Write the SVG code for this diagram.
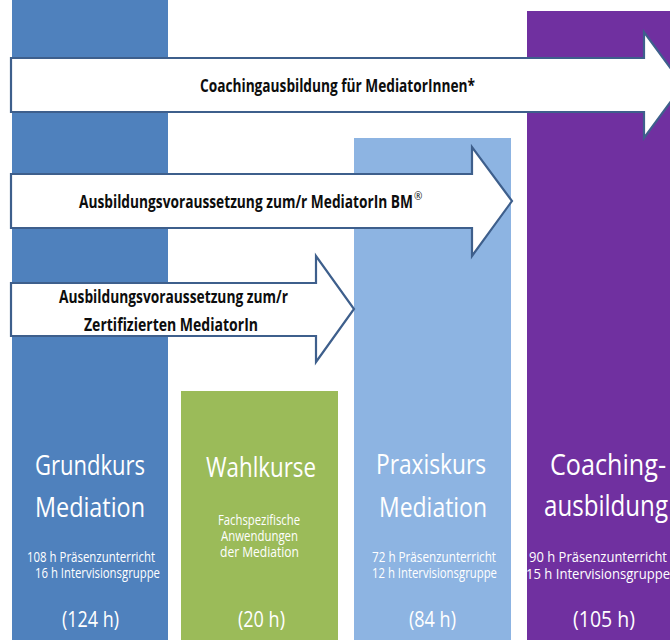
<svg xmlns="http://www.w3.org/2000/svg" width="670" height="640" viewBox="0 0 670 640">
<style>
.ct{font-family:"Open Sans","Liberation Sans",sans-serif;fill:#ffffff}
.h{font-size:28px}
.s{font-size:14px}
.p{font-size:21px}
.ph{font-size:29px}
.ps{font-size:15px}
.pp{font-size:22px}
.arr{fill:#ffffff;stroke:#3E5F8C;stroke-width:2.2;stroke-linejoin:miter}
.at{font-family:"Open Sans","Liberation Sans",sans-serif;font-weight:bold;font-size:18px;fill:#0d0d0d}
</style>
<rect width="670" height="640" fill="#ffffff"/>
<g id="grundkurs">
<rect x="12" y="0" width="156" height="640" fill="#4F81BD"/>
<text class="ct h" x="35" y="475" textLength="110" lengthAdjust="spacingAndGlyphs">Grundkurs</text>
<text class="ct h" x="35" y="517" textLength="110" lengthAdjust="spacingAndGlyphs">Mediation</text>
<text class="ct s" x="27" y="562" textLength="128" lengthAdjust="spacingAndGlyphs">108 h Präsenzunterricht</text>
<text class="ct s" x="35" y="578" textLength="125" lengthAdjust="spacingAndGlyphs">16 h Intervisionsgruppe</text>
<text class="ct p" x="62" y="627" textLength="57" lengthAdjust="spacingAndGlyphs">(124 h)</text>
</g>
<g id="wahlkurse">
<rect x="181" y="391" width="157" height="249" fill="#9BBB59"/>
<text class="ct h" x="206" y="477" textLength="110" lengthAdjust="spacingAndGlyphs">Wahlkurse</text>
<text class="ct s" x="218" y="525" textLength="82" lengthAdjust="spacingAndGlyphs">Fachspezifische</text>
<text class="ct s" x="221" y="541" textLength="77" lengthAdjust="spacingAndGlyphs">Anwendungen</text>
<text class="ct s" x="220" y="557" textLength="79" lengthAdjust="spacingAndGlyphs">der Mediation</text>
<text class="ct p" x="238" y="627" textLength="47" lengthAdjust="spacingAndGlyphs">(20 h)</text>
</g>
<g id="praxiskurs">
<rect x="354" y="138" width="157" height="502" fill="#8DB4E2"/>
<text class="ct h" x="376" y="474" textLength="110" lengthAdjust="spacingAndGlyphs">Praxiskurs</text>
<text class="ct h" x="379" y="517" textLength="108" lengthAdjust="spacingAndGlyphs">Mediation</text>
<text class="ct s" x="372" y="562" textLength="124" lengthAdjust="spacingAndGlyphs">72 h Präsenzunterricht</text>
<text class="ct s" x="372" y="578" textLength="125" lengthAdjust="spacingAndGlyphs">12 h Intervisionsgruppe</text>
<text class="ct p" x="409" y="627" textLength="47" lengthAdjust="spacingAndGlyphs">(84 h)</text>
</g>
<g id="coaching">
<rect x="527" y="11" width="143" height="629" fill="#7030A0"/>
<text class="ct ph" x="550" y="475" textLength="116" lengthAdjust="spacingAndGlyphs">Coaching-</text>
<text class="ct ph" x="544" y="516" textLength="124" lengthAdjust="spacingAndGlyphs">ausbildung</text>
<text class="ct ps" x="529" y="562" textLength="138" lengthAdjust="spacingAndGlyphs">90 h Präsenzunterricht</text>
<text class="ct ps" x="526" y="579" textLength="144" lengthAdjust="spacingAndGlyphs">15 h Intervisionsgruppe</text>
<text class="ct pp" x="573" y="627" textLength="62" lengthAdjust="spacingAndGlyphs">(105 h)</text>
</g>
<g id="arrow-coaching">
<path class="arr" d="M11,58 L644,58 L644,32 L683,85 L644,138 L644,112 L11,112 Z"/>
<text class="at" x="200" y="92" textLength="275" lengthAdjust="spacingAndGlyphs">Coachingausbildung für MediatorInnen*</text>
</g>
<g id="arrow-bm">
<path class="arr" d="M11,174 L472,174 L472,147 L512,201 L472,256 L472,228 L11,228 Z"/>
<text class="at" x="79" y="208" textLength="334" lengthAdjust="spacingAndGlyphs">Ausbildungsvoraussetzung zum/r MediatorIn BM</text>
<text x="414" y="200" font-family="Open Sans, Liberation Sans, sans-serif" font-size="10" fill="#0d0d0d">®</text>
</g>
<g id="arrow-zert">
<path class="arr" d="M11,283 L316,283 L316,256 L354,309 L316,362 L316,336 L11,336 Z"/>
<text class="at" x="59" y="303" textLength="229" lengthAdjust="spacingAndGlyphs">Ausbildungsvoraussetzung zum/r</text>
<text class="at" x="84" y="331" textLength="174" lengthAdjust="spacingAndGlyphs">Zertifizierten MediatorIn</text>
</g>
<g id="connectors"/>
</svg>
